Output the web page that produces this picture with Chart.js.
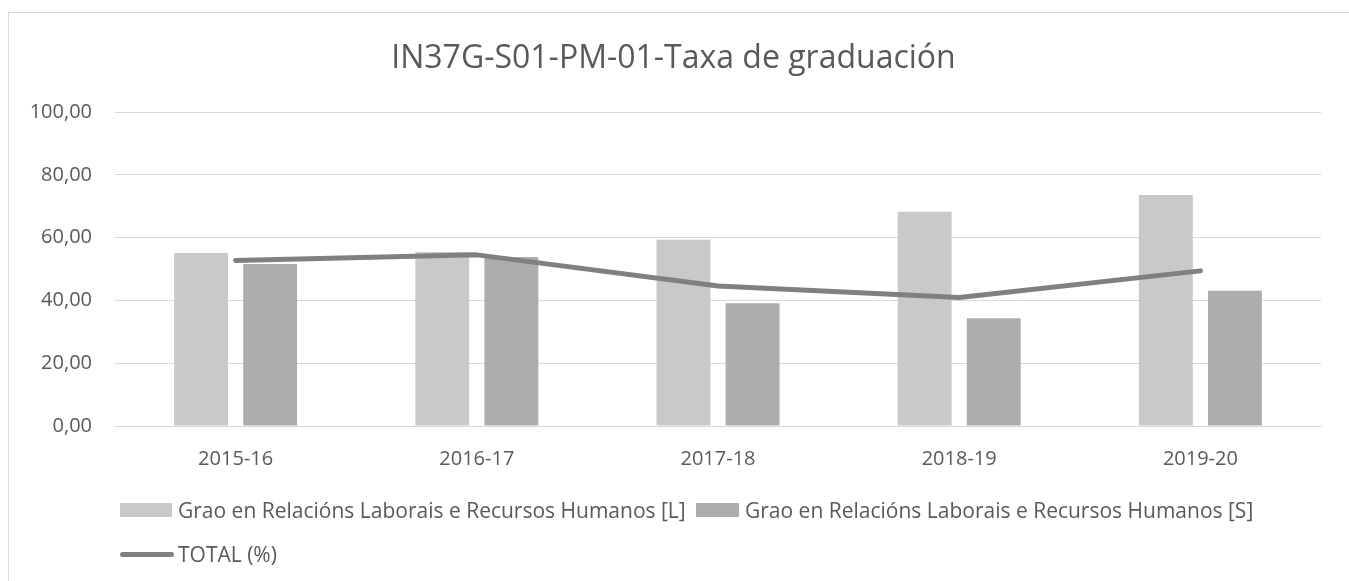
<!DOCTYPE html>
<html lang="gl">
<head>
<meta charset="utf-8">
<title>IN37G-S01-PM-01-Taxa de graduación</title>
<script src="https://cdn.jsdelivr.net/npm/chart.js@4/dist/chart.umd.min.js"></script>
<style>
  html, body {
    margin: 0;
    padding: 0;
    background: #ffffff;
    overflow: hidden;
  }
  .frame {
    position: absolute;
    left: 8px;
    top: 12px;
    width: 1400px;
    height: 700px;
    border: 1px solid #d9d9d9;
    box-sizing: border-box;
  }
  .chart-box {
    position: absolute;
    left: 0;
    top: 0;
    width: 1349px;
    height: 581px;
  }
  .legend-item {
    position: absolute;
    display: flex;
    align-items: center;
    font-family: 'Open Sans', sans-serif;
    font-size: 21px;
    color: #595959;
    white-space: nowrap;
    height: 24px;
  }
  .legend-color {
    height: 14px;
    margin-right: 6px;
  }
  .legend-line {
    height: 5px;
    border-radius: 3px;
    margin-right: 4px;
  }
</style>
</head>
<body>
<div class="frame"></div>
<div class="chart-box"><canvas id="gradChart" width="1349" height="581"></canvas></div>
<div id="chartLegend"></div>

<script>
// Datos
const years = ['2015-16', '2016-17', '2017-18', '2018-19', '2019-20'];
const seriesNames = [
  'Grao en Relacións Laborais e Recursos Humanos [L]',
  'Grao en Relacións Laborais e Recursos Humanos [S]',
  'TOTAL (%)'
];
const gradL = [55.1, 55.4, 59.3, 68.2, 73.6];
const gradS = [51.6, 53.8, 39.1, 34.3, 43.1];
const gradTotal = [52.7, 54.5, 44.6, 40.9, 49.4];
const yTicks = [0, 20, 40, 60, 80, 100];

const colorL = '#c9c9c9';
const colorS = '#adadad';
const colorTotal = '#808080';
const textColor = '#595959';
const gridColor = '#d9d9d9';

// formato con coma decimal
function fmt(v) {
  return v.toFixed(2).replace('.', ',');
}

function createChart() {
  const ctx = document.getElementById('gradChart').getContext('2d');
  return new Chart(ctx, {
    type: 'bar',
    data: {
      labels: years,
      datasets: [
        {
          type: 'line',
          label: seriesNames[2],
          data: gradTotal,
          borderColor: colorTotal,
          backgroundColor: colorTotal,
          borderWidth: 5,
          borderCapStyle: 'round',
          borderJoinStyle: 'round',
          pointRadius: 0,
          tension: 0,
          order: 0
        },
        {
          label: seriesNames[0],
          data: gradL,
          backgroundColor: colorL,
          categoryPercentage: 0.573,
          barPercentage: 0.78,
          order: 1
        },
        {
          label: seriesNames[1],
          data: gradS,
          backgroundColor: colorS,
          categoryPercentage: 0.573,
          barPercentage: 0.78,
          order: 1
        }
      ]
    },
    options: {
      responsive: false,
      animation: false,
      layout: {
        padding: { left: 26, right: 28, top: 0, bottom: 95 }
      },
      plugins: {
        legend: { display: false },
        tooltip: { enabled: false },
        title: {
          display: true,
          text: 'IN37G-S01-PM-01-Taxa de graduación',
          color: textColor,
          font: { family: "'Open Sans', sans-serif", size: 32, weight: 'normal' },
          padding: { top: 40, bottom: 33.6 }
        }
      },
      scales: {
        x: {
          grid: { display: false },
          border: { color: gridColor, width: 1 },
          ticks: {
            color: textColor,
            font: { family: "'Open Sans', sans-serif", size: 20 },
            padding: 13
          },
          afterFit: function(scale) {
            scale.height = 60;
          }
        },
        y: {
          min: 0,
          max: 100,
          afterBuildTicks: function(scale) {
            scale.ticks = yTicks.map(v => ({ value: v }));
          },
          grid: { color: gridColor, lineWidth: 1, drawTicks: false },
          border: { display: false },
          ticks: {
            color: textColor,
            font: { family: "'Open Sans', sans-serif", size: 20 },
            padding: 23,
            callback: function(value) {
              return fmt(value);
            }
          },
          afterFit: function(scale) {
            scale.width = 89;
          }
        }
      }
    }
  });
}

// Lenda en HTML, como no Excel orixinal
function createLegend() {
  const legend = document.getElementById('chartLegend');
  const items = [
    { name: seriesNames[0], color: colorL, kind: 'box', x: 120, y: 498, w: 52 },
    { name: seriesNames[1], color: colorS, kind: 'box', x: 696, y: 498, w: 43 },
    { name: seriesNames[2], color: colorTotal, kind: 'line', x: 120, y: 542, w: 54 }
  ];
  let html = '';
  items.forEach(item => {
    const cls = item.kind === 'line' ? 'legend-line' : 'legend-color';
    html += `
      <div class="legend-item" style="left:${item.x}px; top:${item.y}px">
        <div class="${cls}" style="width:${item.w}px; background-color:${item.color}"></div>
        <div class="legend-text">${item.name}</div>
      </div>`;
  });
  legend.innerHTML = html;
}

document.addEventListener('DOMContentLoaded', function() {
  createChart();
  createLegend();
});
</script>
</body>
</html>
